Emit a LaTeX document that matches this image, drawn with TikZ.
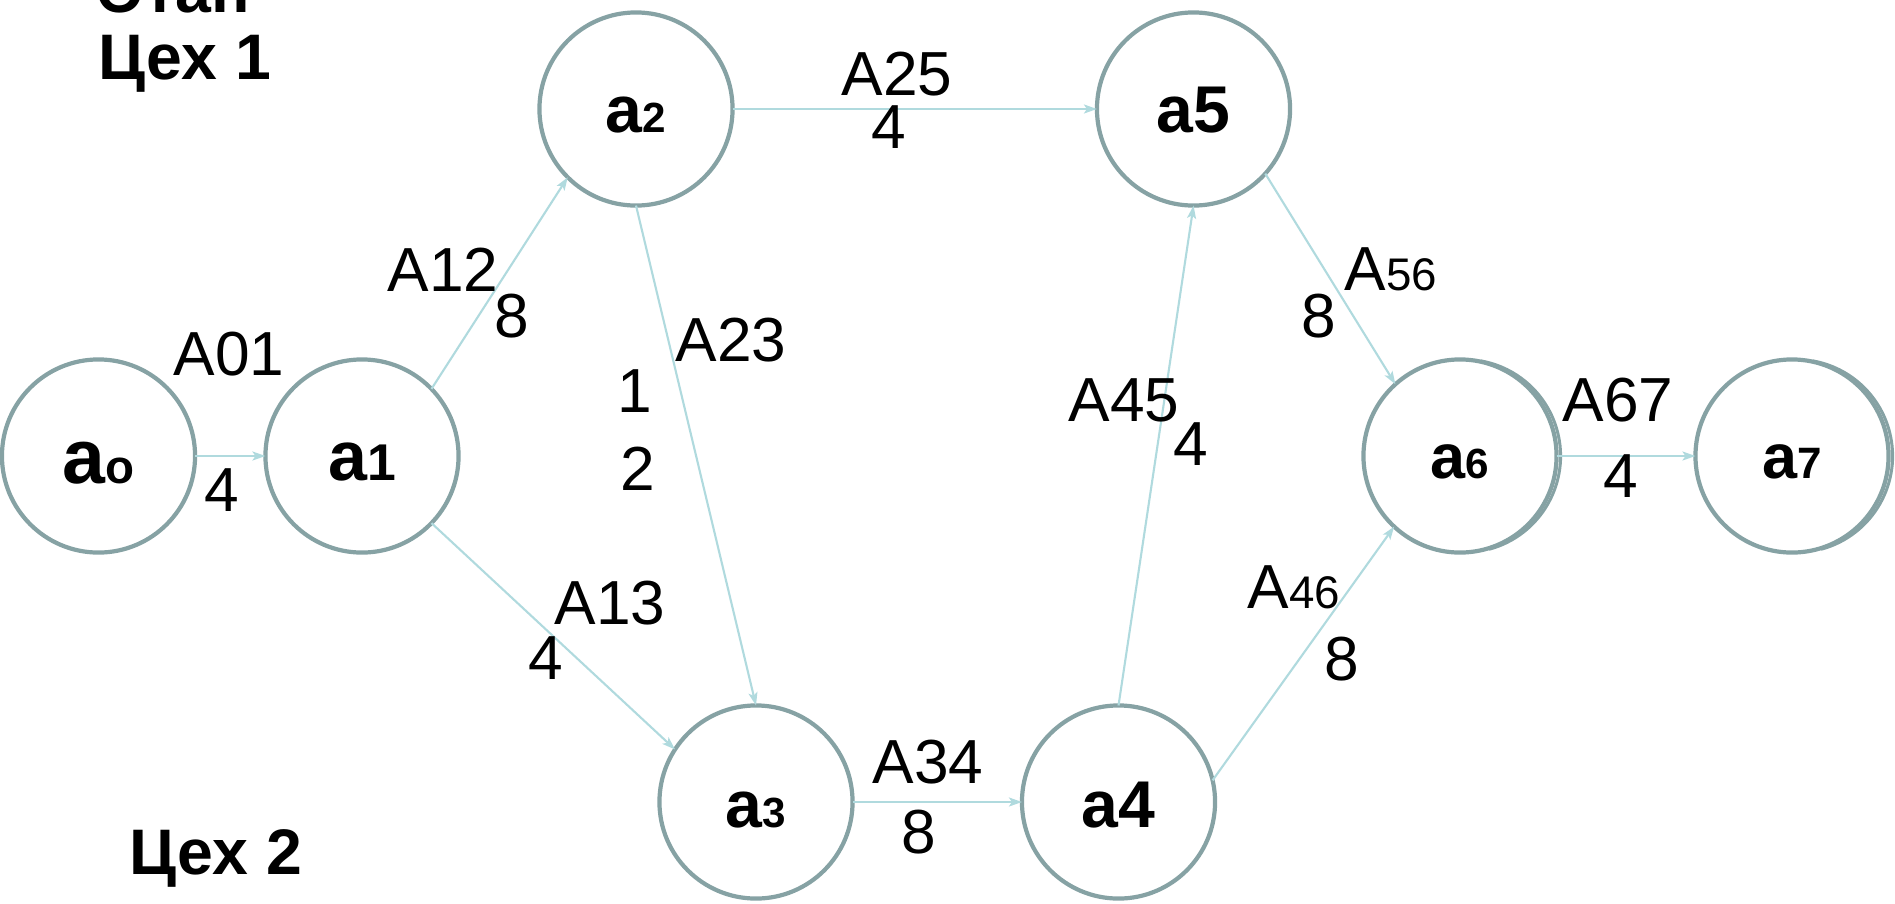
\documentclass[tikz,border=0pt]{standalone}
\usepackage{fontspec}
\setmainfont{Liberation Sans}
\usetikzlibrary{arrows.meta}
\definecolor{ring}{HTML}{86A2A4}
\definecolor{edgec}{HTML}{B0DADE}
\newcommand\fs[1]{\fontsize{#1}{#1}\selectfont}
\begin{document}
\begin{tikzpicture}[x=0.01cm,y=-0.01cm,
  circ/.style={circle,draw=ring,line width=0.042cm,minimum size=1.93cm,inner sep=0pt,outer sep=0pt},
  shade2/.style={draw=ring,line width=0.03cm},
  arr/.style={draw=edgec,line width=0.6pt,-{Stealth[length=0.13cm,width=0.09cm,inset=0.03cm]}},
  nlab/.style={inner sep=0pt,anchor=base,font=\bfseries},
  elab/.style={inner sep=0pt,anchor=base,font=\fs{17.7}},
  title/.style={inner sep=0pt,anchor=base west,font=\fs{18.3}\bfseries}]
\useasboundingbox (0,0) rectangle (1895,903);
% nodes
\node[circ] (a0) at (98.5,456) {};
\node[circ] (a1) at (362,456) {};
\node[circ] (a2) at (636,109) {};
\node[circ] (a5) at (1193.5,109) {};
\node[circ] (a3) at (756,802) {};
\node[circ] (a4) at (1118.5,802) {};
\draw[shade2] ([xshift=0.04cm]1460,456) ++(-75:0.965cm) arc[start angle=-75,end angle=80,radius=0.965cm];
\draw[shade2] ([xshift=0.04cm]1792,456) ++(-75:0.965cm) arc[start angle=-75,end angle=80,radius=0.965cm];
\node[circ,fill=white] (a6) at (1460,456) {};
\node[circ,fill=white] (a7) at (1792,456) {};
% node texts
\node[nlab] (t0) at (98.5,483) {\fs{21.9}a\fs{13.5}o};
\node[nlab] (t1) at (362,480) {\fs{19.9}a\fs{14.7}1};
\node[nlab] (t2) at (636,132) {\fs{18.8}a\fs{12}2};
\node[nlab] (t5) at (1193.5,132) {\fs{18.8}a5};
\node[nlab] (t3) at (756,827) {\fs{18.8}a\fs{12}3};
\node[nlab] (t4) at (1118.5,827) {\fs{18.8}a4};
\node[nlab] (t6) at (1460,478) {\fs{17.9}a\fs{12}6};
\node[nlab] (t7) at (1792,478) {\fs{17.9}a\fs{12.5}7};
% connectors
\draw[arr] (a0) -- (a1);
\draw[arr] (a1.44) -- (a2.225);
\draw[arr] (a1.-44) -- (a3.147);
\draw[arr] (a2.south) -- (a3.north);
\draw[arr] (a2) -- (a5);
\draw[arr] (a3) -- (a4);
\draw[arr] (a4.north) -- (a5.south);
\draw[arr] (a4.13) -- (a6.227);
\draw[arr] (a5.-42) -- (a6.132);
\draw[arr] (a6) -- (a7);
% edge labels
\node[elab] (l01) at (229,375) {A01};
\node[elab] (w01) at (222,511) {4};
\node[elab] (l12) at (443,291) {A12};
\node[elab] (w12) at (512,337) {8};
\node[elab] (l23) at (731,361) {A23};
\node[elab] (w23a) at (635,412) {1};
\node[elab] (w23b) at (638,490) {2};
\node[elab] (l25) at (897,95) {A25};
\node[elab] (w25) at (889,148) {4};
\node[elab] (l13) at (610,624) {A13};
\node[elab] (w13) at (546,679) {4};
\node[elab] (l34) at (928,783) {A34};
\node[elab] (w34) at (919,853) {8};
\node[elab] (l45) at (1124,421) {A45};
\node[elab] (w45) at (1191,465) {4};
\node[elab] (l56) at (1391,290) {A\fs{13}56};
\node[elab] (w56) at (1319,337) {8};
\node[elab] (l67) at (1618,421) {A67};
\node[elab] (w67) at (1621,497) {4};
\node[elab] (l46) at (1294,608) {A\fs{13}46};
\node[elab] (w46) at (1342,680) {8};
% titles
\node[title] (etap) at (98,12) {Этап};
\node[title] (c1) at (98,79) {Цех 1};
\node[title] (c2) at (129,874) {Цех 2};
\end{tikzpicture}
\end{document}
